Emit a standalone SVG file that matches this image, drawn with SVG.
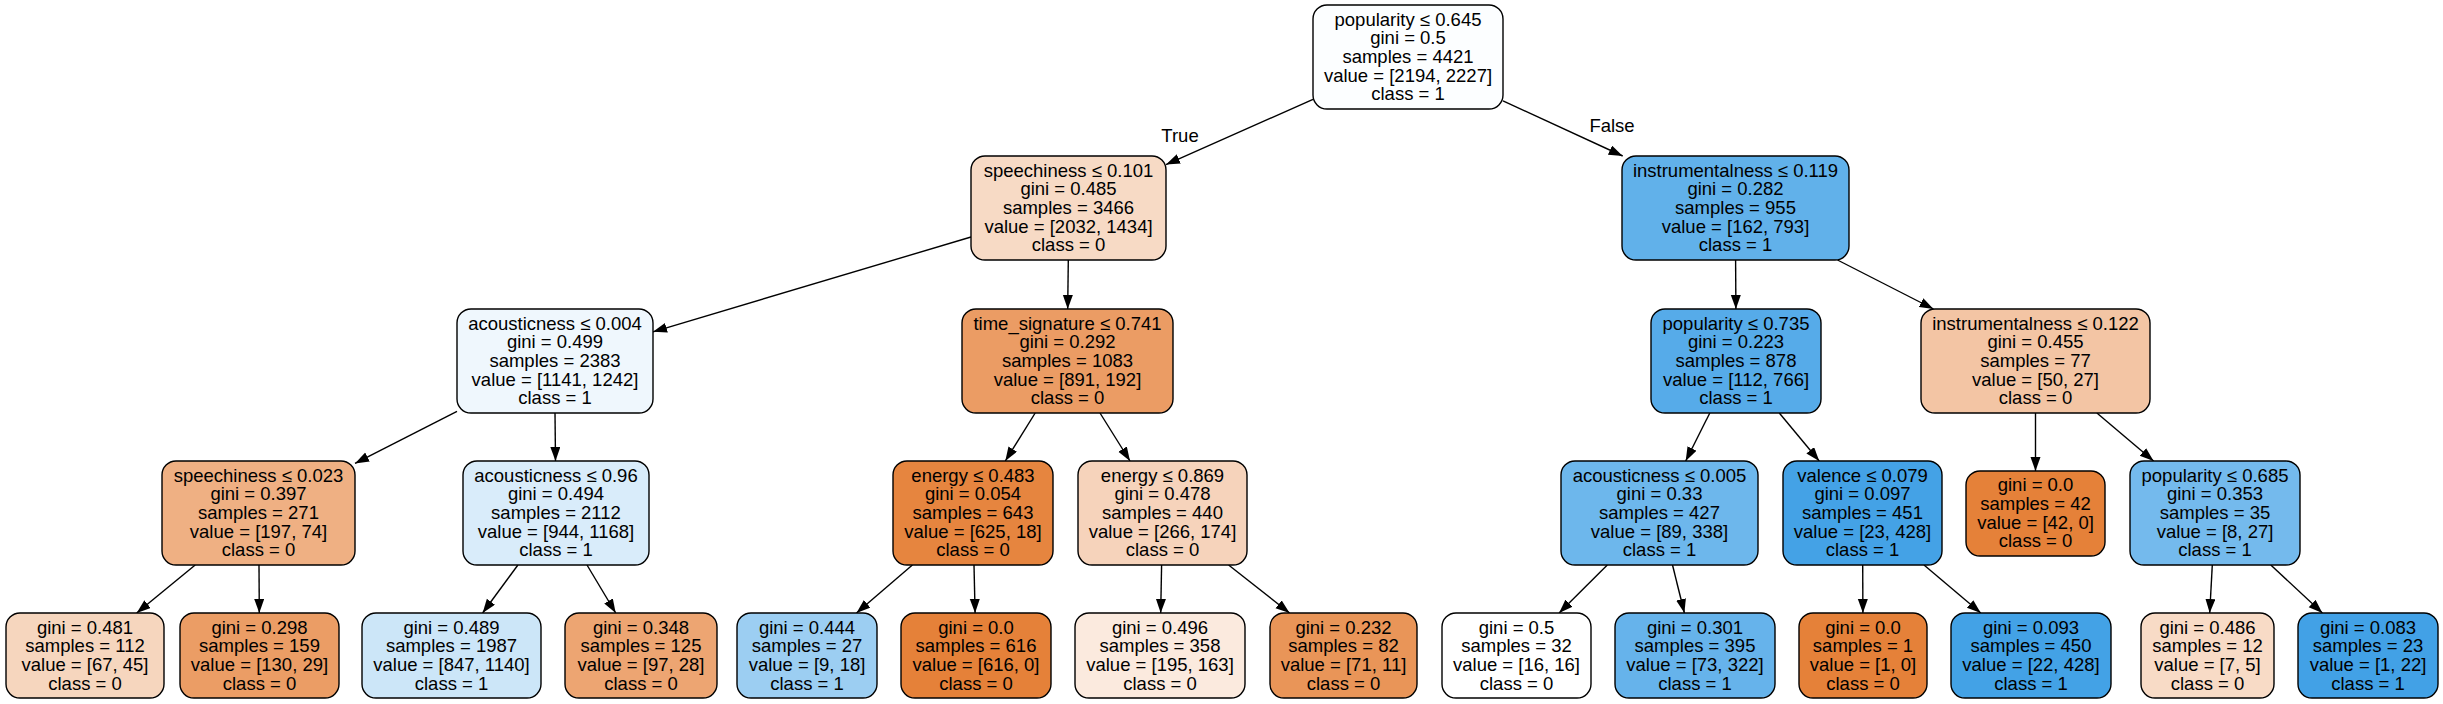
<svg xmlns="http://www.w3.org/2000/svg" width="2443" height="704" viewBox="0 0 2443 704">
<defs>
<marker id="ah" markerUnits="userSpaceOnUse" markerWidth="15" markerHeight="11" refX="14" refY="5" orient="auto"><path d="M0,0 L14,5 L0,10 z" fill="#000"/></marker>
<style>
.n rect{stroke:#000;stroke-width:1.4}
text{font-family:"Liberation Sans",Arial,Helvetica,sans-serif;font-size:18.5px;text-anchor:middle;fill:#000}
#edges line{stroke:#000;stroke-width:1.4;marker-end:url(#ah)}
</style>
</defs>
<rect width="2443" height="704" fill="#fff"/>
<g id="edges">
<line x1="1313" y1="99.3" x2="1166" y2="164.6"/>
<line x1="1503" y1="100.8" x2="1622.7" y2="156"/>
<line x1="971" y1="237" x2="653" y2="331.8"/>
<line x1="1068.3" y1="260" x2="1067.7" y2="309"/>
<line x1="1735.6" y1="260" x2="1735.9" y2="309"/>
<line x1="1837.5" y1="260" x2="1933.5" y2="309"/>
<line x1="457" y1="411.3" x2="355" y2="463.4"/>
<line x1="555" y1="413" x2="555.5" y2="461"/>
<line x1="1035.2" y1="413" x2="1005.3" y2="461"/>
<line x1="1100" y1="413" x2="1130" y2="461"/>
<line x1="1709.8" y1="413" x2="1685.7" y2="461"/>
<line x1="1779.3" y1="413" x2="1819.2" y2="461"/>
<line x1="2035.5" y1="413" x2="2035.5" y2="471"/>
<line x1="2096.9" y1="413" x2="2153.6" y2="461"/>
<line x1="195.2" y1="565" x2="136.7" y2="613"/>
<line x1="259" y1="565" x2="259.3" y2="613"/>
<line x1="517.9" y1="565" x2="482.6" y2="613"/>
<line x1="587" y1="565" x2="615.7" y2="613"/>
<line x1="912.4" y1="565" x2="856.5" y2="613"/>
<line x1="974" y1="565" x2="975.1" y2="613"/>
<line x1="1161.6" y1="565" x2="1160.7" y2="613"/>
<line x1="1228.6" y1="565" x2="1289.6" y2="613"/>
<line x1="1607.3" y1="565" x2="1559.1" y2="613"/>
<line x1="1672.5" y1="565" x2="1684.4" y2="613"/>
<line x1="1862.7" y1="565" x2="1862.9" y2="613"/>
<line x1="1924" y1="565" x2="1980.8" y2="613"/>
<line x1="2212.3" y1="565" x2="2209.7" y2="613"/>
<line x1="2270.8" y1="565" x2="2322.4" y2="613"/>
<text x="1180" y="142">True</text>
<text x="1612" y="132">False</text>
</g>
<g id="n0" class="n"><rect x="1313" y="5" width="190" height="104" rx="14" fill="#fcfeff"/>
<text x="1408" y="25.6"><tspan x="1408">popularity &#8804; 0.645</tspan><tspan x="1408" dy="18.7">gini = 0.5</tspan><tspan x="1408" dy="18.7">samples = 4421</tspan><tspan x="1408" dy="18.7">value = [2194, 2227]</tspan><tspan x="1408" dy="18.7">class = 1</tspan></text></g>
<g id="n1" class="n"><rect x="971" y="156" width="195" height="104" rx="14" fill="#f7dac5"/>
<text x="1068.5" y="176.6"><tspan x="1068.5">speechiness &#8804; 0.101</tspan><tspan x="1068.5" dy="18.7">gini = 0.485</tspan><tspan x="1068.5" dy="18.7">samples = 3466</tspan><tspan x="1068.5" dy="18.7">value = [2032, 1434]</tspan><tspan x="1068.5" dy="18.7">class = 0</tspan></text></g>
<g id="n2" class="n"><rect x="1622" y="156" width="227" height="104" rx="14" fill="#61b1ea"/>
<text x="1735.5" y="176.6"><tspan x="1735.5">instrumentalness &#8804; 0.119</tspan><tspan x="1735.5" dy="18.7">gini = 0.282</tspan><tspan x="1735.5" dy="18.7">samples = 955</tspan><tspan x="1735.5" dy="18.7">value = [162, 793]</tspan><tspan x="1735.5" dy="18.7">class = 1</tspan></text></g>
<g id="n3" class="n"><rect x="457" y="309" width="196" height="104" rx="14" fill="#eff7fd"/>
<text x="555" y="329.6"><tspan x="555">acousticness &#8804; 0.004</tspan><tspan x="555" dy="18.7">gini = 0.499</tspan><tspan x="555" dy="18.7">samples = 2383</tspan><tspan x="555" dy="18.7">value = [1141, 1242]</tspan><tspan x="555" dy="18.7">class = 1</tspan></text></g>
<g id="n4" class="n"><rect x="962" y="309" width="211" height="104" rx="14" fill="#eb9c64"/>
<text x="1067.5" y="329.6"><tspan x="1067.5">time_signature &#8804; 0.741</tspan><tspan x="1067.5" dy="18.7">gini = 0.292</tspan><tspan x="1067.5" dy="18.7">samples = 1083</tspan><tspan x="1067.5" dy="18.7">value = [891, 192]</tspan><tspan x="1067.5" dy="18.7">class = 0</tspan></text></g>
<g id="n5" class="n"><rect x="1651" y="309" width="170" height="104" rx="14" fill="#56abe9"/>
<text x="1736" y="329.6"><tspan x="1736">popularity &#8804; 0.735</tspan><tspan x="1736" dy="18.7">gini = 0.223</tspan><tspan x="1736" dy="18.7">samples = 878</tspan><tspan x="1736" dy="18.7">value = [112, 766]</tspan><tspan x="1736" dy="18.7">class = 1</tspan></text></g>
<g id="n6" class="n"><rect x="1921" y="309" width="229" height="104" rx="14" fill="#f3c5a4"/>
<text x="2035.5" y="329.6"><tspan x="2035.5">instrumentalness &#8804; 0.122</tspan><tspan x="2035.5" dy="18.7">gini = 0.455</tspan><tspan x="2035.5" dy="18.7">samples = 77</tspan><tspan x="2035.5" dy="18.7">value = [50, 27]</tspan><tspan x="2035.5" dy="18.7">class = 0</tspan></text></g>
<g id="n7" class="n"><rect x="162" y="461" width="193" height="104" rx="14" fill="#efb083"/>
<text x="258.5" y="481.6"><tspan x="258.5">speechiness &#8804; 0.023</tspan><tspan x="258.5" dy="18.7">gini = 0.397</tspan><tspan x="258.5" dy="18.7">samples = 271</tspan><tspan x="258.5" dy="18.7">value = [197, 74]</tspan><tspan x="258.5" dy="18.7">class = 0</tspan></text></g>
<g id="n8" class="n"><rect x="463" y="461" width="186" height="104" rx="14" fill="#d9ecfa"/>
<text x="556" y="481.6"><tspan x="556">acousticness &#8804; 0.96</tspan><tspan x="556" dy="18.7">gini = 0.494</tspan><tspan x="556" dy="18.7">samples = 2112</tspan><tspan x="556" dy="18.7">value = [944, 1168]</tspan><tspan x="556" dy="18.7">class = 1</tspan></text></g>
<g id="n9" class="n"><rect x="893" y="461" width="160" height="104" rx="14" fill="#e6853f"/>
<text x="973" y="481.6"><tspan x="973">energy &#8804; 0.483</tspan><tspan x="973" dy="18.7">gini = 0.054</tspan><tspan x="973" dy="18.7">samples = 643</tspan><tspan x="973" dy="18.7">value = [625, 18]</tspan><tspan x="973" dy="18.7">class = 0</tspan></text></g>
<g id="n10" class="n"><rect x="1078" y="461" width="169" height="104" rx="14" fill="#f6d3bb"/>
<text x="1162.5" y="481.6"><tspan x="1162.5">energy &#8804; 0.869</tspan><tspan x="1162.5" dy="18.7">gini = 0.478</tspan><tspan x="1162.5" dy="18.7">samples = 440</tspan><tspan x="1162.5" dy="18.7">value = [266, 174]</tspan><tspan x="1162.5" dy="18.7">class = 0</tspan></text></g>
<g id="n11" class="n"><rect x="1561" y="461" width="197" height="104" rx="14" fill="#6db7ec"/>
<text x="1659.5" y="481.6"><tspan x="1659.5">acousticness &#8804; 0.005</tspan><tspan x="1659.5" dy="18.7">gini = 0.33</tspan><tspan x="1659.5" dy="18.7">samples = 427</tspan><tspan x="1659.5" dy="18.7">value = [89, 338]</tspan><tspan x="1659.5" dy="18.7">class = 1</tspan></text></g>
<g id="n12" class="n"><rect x="1783" y="461" width="159" height="104" rx="14" fill="#44a2e6"/>
<text x="1862.5" y="481.6"><tspan x="1862.5">valence &#8804; 0.079</tspan><tspan x="1862.5" dy="18.7">gini = 0.097</tspan><tspan x="1862.5" dy="18.7">samples = 451</tspan><tspan x="1862.5" dy="18.7">value = [23, 428]</tspan><tspan x="1862.5" dy="18.7">class = 1</tspan></text></g>
<g id="n13" class="n"><rect x="1966" y="471" width="139" height="85" rx="14" fill="#e58139"/>
<text x="2035.5" y="491.2"><tspan x="2035.5">gini = 0.0</tspan><tspan x="2035.5" dy="18.7">samples = 42</tspan><tspan x="2035.5" dy="18.7">value = [42, 0]</tspan><tspan x="2035.5" dy="18.7">class = 0</tspan></text></g>
<g id="n14" class="n"><rect x="2130" y="461" width="170" height="104" rx="14" fill="#74baed"/>
<text x="2215" y="481.6"><tspan x="2215">popularity &#8804; 0.685</tspan><tspan x="2215" dy="18.7">gini = 0.353</tspan><tspan x="2215" dy="18.7">samples = 35</tspan><tspan x="2215" dy="18.7">value = [8, 27]</tspan><tspan x="2215" dy="18.7">class = 1</tspan></text></g>
<g id="l1" class="n"><rect x="6" y="613" width="158" height="85" rx="14" fill="#f6d6be"/>
<text x="85" y="633.5"><tspan x="85">gini = 0.481</tspan><tspan x="85" dy="18.7">samples = 112</tspan><tspan x="85" dy="18.7">value = [67, 45]</tspan><tspan x="85" dy="18.7">class = 0</tspan></text></g>
<g id="l2" class="n"><rect x="180" y="613" width="159" height="85" rx="14" fill="#eb9d65"/>
<text x="259.5" y="633.5"><tspan x="259.5">gini = 0.298</tspan><tspan x="259.5" dy="18.7">samples = 159</tspan><tspan x="259.5" dy="18.7">value = [130, 29]</tspan><tspan x="259.5" dy="18.7">class = 0</tspan></text></g>
<g id="l3" class="n"><rect x="362" y="613" width="179" height="85" rx="14" fill="#cce6f8"/>
<text x="451.5" y="633.5"><tspan x="451.5">gini = 0.489</tspan><tspan x="451.5" dy="18.7">samples = 1987</tspan><tspan x="451.5" dy="18.7">value = [847, 1140]</tspan><tspan x="451.5" dy="18.7">class = 1</tspan></text></g>
<g id="l4" class="n"><rect x="565" y="613" width="152" height="85" rx="14" fill="#eda572"/>
<text x="641" y="633.5"><tspan x="641">gini = 0.348</tspan><tspan x="641" dy="18.7">samples = 125</tspan><tspan x="641" dy="18.7">value = [97, 28]</tspan><tspan x="641" dy="18.7">class = 0</tspan></text></g>
<g id="l5" class="n"><rect x="737" y="613" width="140" height="85" rx="14" fill="#9ccef2"/>
<text x="807" y="633.5"><tspan x="807">gini = 0.444</tspan><tspan x="807" dy="18.7">samples = 27</tspan><tspan x="807" dy="18.7">value = [9, 18]</tspan><tspan x="807" dy="18.7">class = 1</tspan></text></g>
<g id="l6" class="n"><rect x="901" y="613" width="150" height="85" rx="14" fill="#e58139"/>
<text x="976" y="633.5"><tspan x="976">gini = 0.0</tspan><tspan x="976" dy="18.7">samples = 616</tspan><tspan x="976" dy="18.7">value = [616, 0]</tspan><tspan x="976" dy="18.7">class = 0</tspan></text></g>
<g id="l7" class="n"><rect x="1075" y="613" width="170" height="85" rx="14" fill="#fbeade"/>
<text x="1160" y="633.5"><tspan x="1160">gini = 0.496</tspan><tspan x="1160" dy="18.7">samples = 358</tspan><tspan x="1160" dy="18.7">value = [195, 163]</tspan><tspan x="1160" dy="18.7">class = 0</tspan></text></g>
<g id="l8" class="n"><rect x="1270" y="613" width="147" height="85" rx="14" fill="#e99558"/>
<text x="1343.5" y="633.5"><tspan x="1343.5">gini = 0.232</tspan><tspan x="1343.5" dy="18.7">samples = 82</tspan><tspan x="1343.5" dy="18.7">value = [71, 11]</tspan><tspan x="1343.5" dy="18.7">class = 0</tspan></text></g>
<g id="l9" class="n"><rect x="1442" y="613" width="149" height="85" rx="14" fill="#ffffff"/>
<text x="1516.5" y="633.5"><tspan x="1516.5">gini = 0.5</tspan><tspan x="1516.5" dy="18.7">samples = 32</tspan><tspan x="1516.5" dy="18.7">value = [16, 16]</tspan><tspan x="1516.5" dy="18.7">class = 0</tspan></text></g>
<g id="l10" class="n"><rect x="1615" y="613" width="160" height="85" rx="14" fill="#66b3eb"/>
<text x="1695" y="633.5"><tspan x="1695">gini = 0.301</tspan><tspan x="1695" dy="18.7">samples = 395</tspan><tspan x="1695" dy="18.7">value = [73, 322]</tspan><tspan x="1695" dy="18.7">class = 1</tspan></text></g>
<g id="l11" class="n"><rect x="1799" y="613" width="128" height="85" rx="14" fill="#e58139"/>
<text x="1863" y="633.5"><tspan x="1863">gini = 0.0</tspan><tspan x="1863" dy="18.7">samples = 1</tspan><tspan x="1863" dy="18.7">value = [1, 0]</tspan><tspan x="1863" dy="18.7">class = 0</tspan></text></g>
<g id="l12" class="n"><rect x="1951" y="613" width="160" height="85" rx="14" fill="#43a2e6"/>
<text x="2031" y="633.5"><tspan x="2031">gini = 0.093</tspan><tspan x="2031" dy="18.7">samples = 450</tspan><tspan x="2031" dy="18.7">value = [22, 428]</tspan><tspan x="2031" dy="18.7">class = 1</tspan></text></g>
<g id="l13" class="n"><rect x="2141" y="613" width="133" height="85" rx="14" fill="#f8dbc6"/>
<text x="2207.5" y="633.5"><tspan x="2207.5">gini = 0.486</tspan><tspan x="2207.5" dy="18.7">samples = 12</tspan><tspan x="2207.5" dy="18.7">value = [7, 5]</tspan><tspan x="2207.5" dy="18.7">class = 0</tspan></text></g>
<g id="l14" class="n"><rect x="2298" y="613" width="140" height="85" rx="14" fill="#42a1e6"/>
<text x="2368" y="633.5"><tspan x="2368">gini = 0.083</tspan><tspan x="2368" dy="18.7">samples = 23</tspan><tspan x="2368" dy="18.7">value = [1, 22]</tspan><tspan x="2368" dy="18.7">class = 1</tspan></text></g>
</svg>
